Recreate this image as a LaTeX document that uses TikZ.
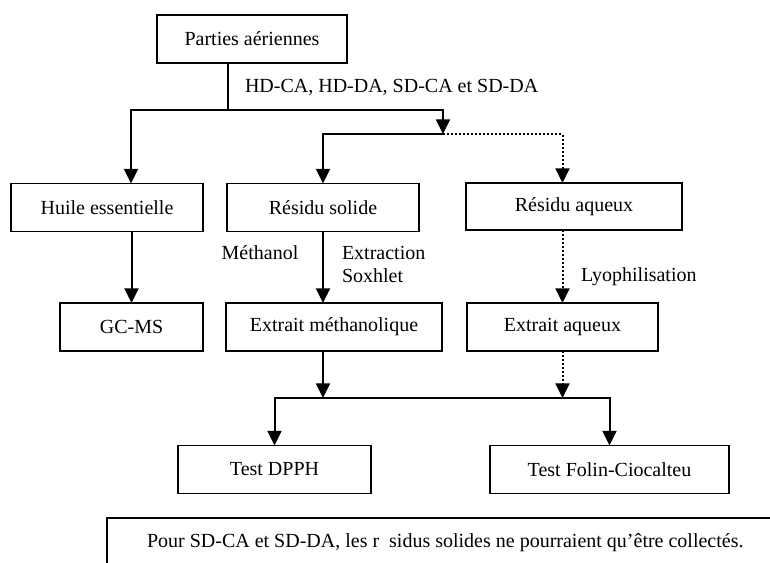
\documentclass[tikz,border=0pt]{standalone}
\usepackage{fontspec}
\setmainfont{Liberation Serif}
\usetikzlibrary{arrows.meta}
\usetikzlibrary{calc}

\begin{document}
\begin{tikzpicture}[x=0.75pt,y=-0.75pt,
  box/.style={draw,line width=1.1pt,inner sep=0pt,outer sep=0pt,
    minimum height=36pt,font=\fontsize{15}{17.25}\selectfont},
  link/.style={line width=1.5pt,-{Triangle[length=11pt,width=10.5pt]}},
  dots/.style={dash pattern=on 1.5pt off 1.5pt},
  txt/.style={inner sep=0pt,outer sep=0pt,font=\fontsize{15}{17.25}\selectfont}]
  \useasboundingbox (0,0) rectangle (770,562);

  % boxes
  \node[box,minimum width=142.5pt]  (parties) at (252,39)    {Parties aériennes};
  \node[box,minimum width=144pt]    (huile)   at (107,207.5) {Huile essentielle};
  \node[box,minimum width=144pt]    (rsol)    at (323,207.5) {Résidu solide};
  \node[box,minimum width=162pt,minimum height=35.25pt]
                                    (raq)     at (574,206.5) {Résidu aqueux};
  \node[box,minimum width=107.25pt] (gcms)    at (131.5,327) {GC-MS};
  \node[box,minimum width=162pt]    (emeth)   at (334,327)   {Extrait méthanolique};
  \node[box,minimum width=143.25pt] (eaq)     at (562.5,327) {Extrait aqueux};
  \node[box,minimum width=144.75pt] (dpph)    at (274.5,469.5) {Test DPPH};
  \node[box,minimum width=179.25pt] (folin)   at (609.5,469.5) {Test Folin-Ciocalteu};

  % branch points
  \coordinate (split) at (228,110);
  \coordinate (b1l)   at (131,110);
  \coordinate (b1r)   at (443,110);
  \coordinate (fork)  at (443,134);
  \coordinate (b3)    at (0,398);

  % labels
  \node[txt,anchor=west] (lbltypes) at (245,87)  {HD-CA, HD-DA, SD-CA et SD-DA};
  \node[txt]             (lblmeth)  at (260,253) {Méthanol};
  \node[txt,anchor=west,align=left] (lblsox) at (342,264.5) {Extraction\\Soxhlet};
  \node[txt,anchor=west] (lbllyo)   at (581,277) {Lyophilisation};

  % connectors
  \draw[line width=0.8pt] (parties.south -| split) -- (split);
  \draw[link] (b1r) -- (b1l) -- (b1l |- huile.north);
  \draw[link] (b1l) -- (b1r) -- (fork);
  \draw[link] (fork) -| (rsol.north);
  \draw[link,dots] (fork) -| (eaq.north |- raq.north);
  \draw[link] (huile.south -| gcms.north) -- (gcms.north);
  \draw[link] (rsol.south) -- (rsol.south |- emeth.north);
  \draw[link,dots] (eaq.north |- raq.south) -- (eaq.north);
  \draw[link] (emeth.south -| rsol.south) -- (rsol.south |- b3);
  \draw[link,dots] (eaq.south) -- (eaq.south |- b3);
  \draw[link] (folin.north |- b3) -- (dpph.north |- b3) -- (dpph.north);
  \draw[link] (dpph.north |- b3) -- (folin.north |- b3) -- (folin.north);

  % note
  \draw[line width=1.1pt] (107,570) -- (107,518) -- (780,518);
  \node[txt,anchor=west] (note) at (147,543)
    {Pour SD-CA et SD-DA, les r\ \ sidus solides ne pourraient qu’être collectés.};
\end{tikzpicture}
\end{document}
